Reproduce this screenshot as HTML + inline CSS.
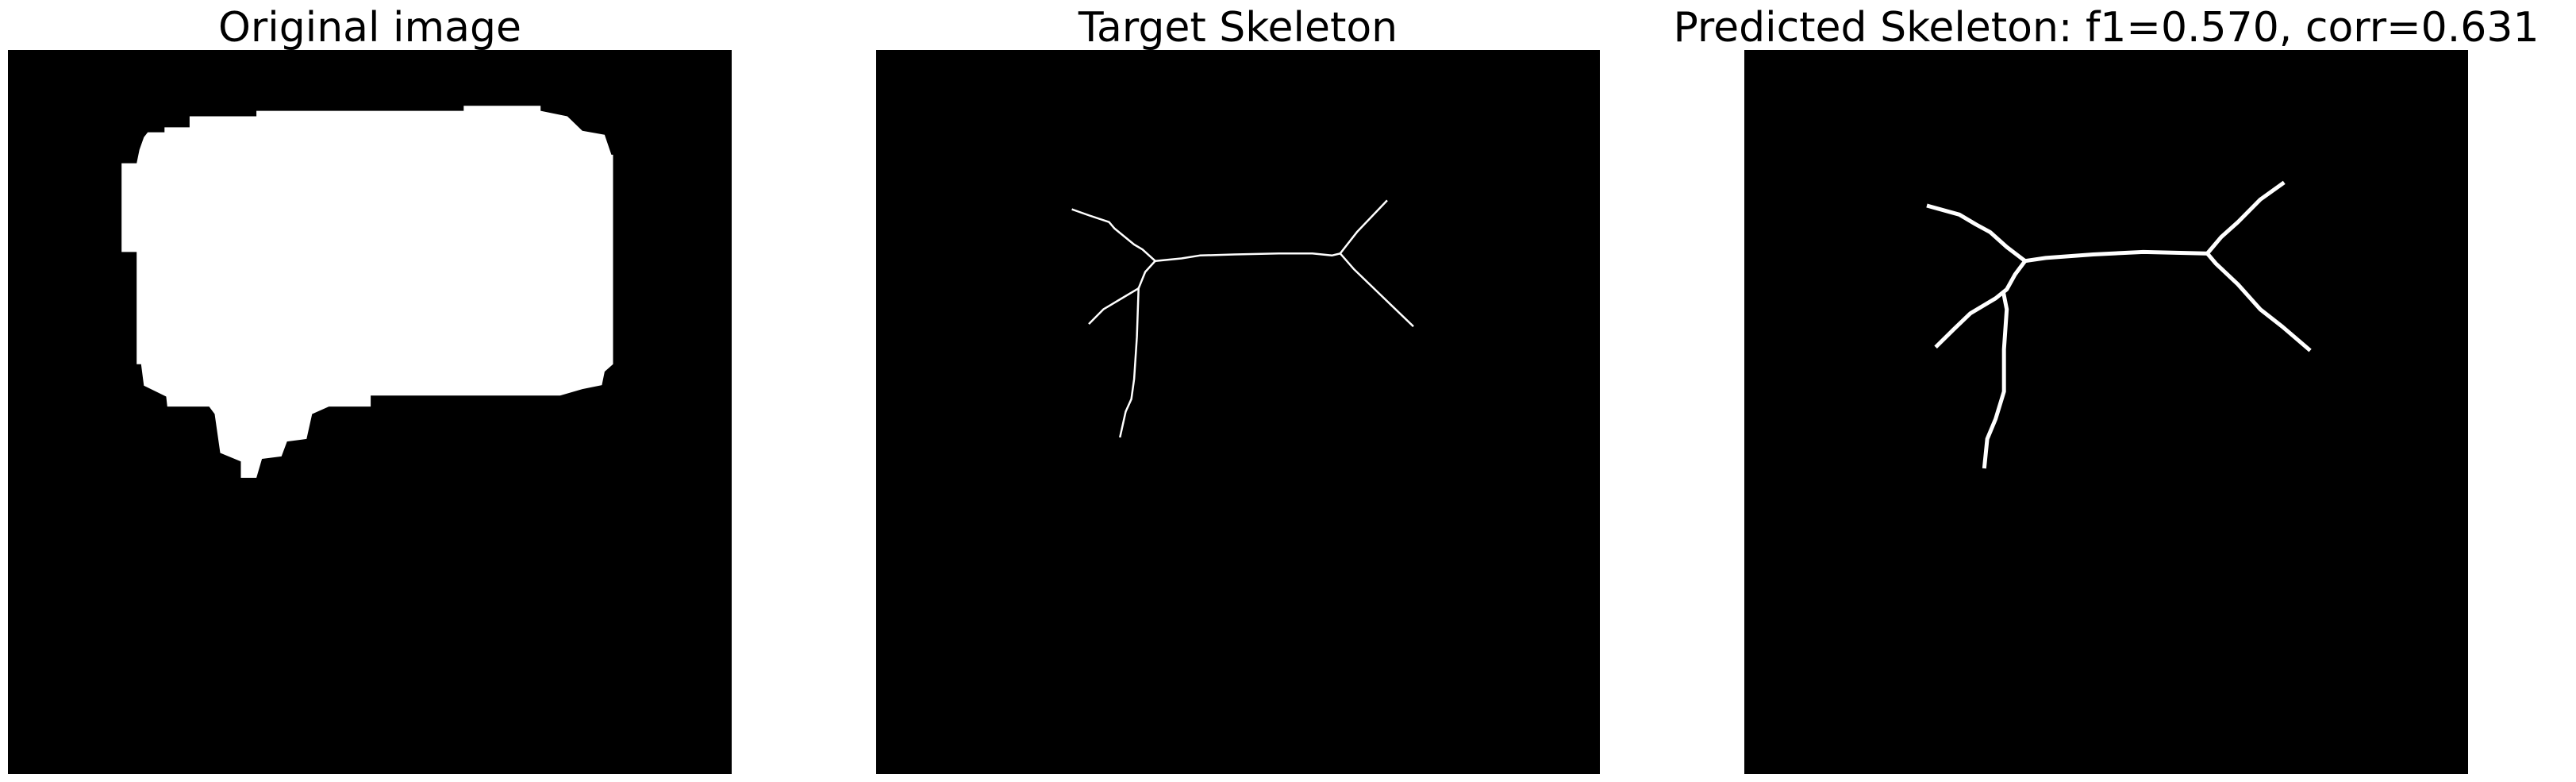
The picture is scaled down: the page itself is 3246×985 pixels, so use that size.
<!DOCTYPE html>
<html><head><meta charset="utf-8">
<style>
html,body{margin:0;padding:0;background:#fff;}
svg{display:block;}
text{font-family:"DejaVu Sans","Liberation Sans",sans-serif;}
</style></head>
<body>
<svg id="fig" width="3246" height="985" viewBox="0 0 3246 985" xmlns="http://www.w3.org/2000/svg">
  <g>
    <text x="466" y="52" font-size="52" text-anchor="middle">Original image</text>
    <rect x="10" y="63" width="912" height="912" fill="#000"/>
    <g id="g1"></g>
  </g>
  <g>
    <text x="1560" y="52" font-size="52" text-anchor="middle">Target Skeleton</text>
    <rect x="1104" y="63" width="912" height="912" fill="#000"/>
    <g id="g2"></g>
  </g>
  <g>
    <text x="2654" y="52" font-size="52" text-anchor="middle">Predicted Skeleton: f1=0.570, corr=0.631</text>
    <rect x="2198" y="63" width="912" height="912" fill="#000"/>
    <g id="g3"></g>
  </g>
</svg>
<script>
// Image-space readings (source pixel grid of each panel, 0..1300 x 0..1452)
const bubbleX = [460,832,832,970,970,1018,1045,1085,1097,1100,1100,1085,1080,1045,1005,665,665,590,560,550,515,505,470,460,432,432,395,385,375,300,298,258,253,245,245,218,218,245,250,258,265,295,295,340,340,460];
const bubbleY = [222,222,212,212,222,233,262,270,310,310,730,745,772,780,793,793,815,815,830,880,885,915,920,958,958,925,908,830,815,815,795,773,730,730,505,505,327,327,300,275,265,265,255,255,233,233];

const targetBranches = [
  {x:[430,460,495,505,540,555,578], y:[420,432,445,458,490,500,523]},
  {x:[578,625,658,720,800,860,895,910], y:[523,518,512,510,508,508,512,508]},
  {x:[910,940,993], y:[508,465,403]},
  {x:[910,935,1000,1040], y:[508,540,610,653]},
  {x:[578,560,548,515,485,460], y:[523,545,578,600,620,648]},
  {x:[548,545,540,535,525,515], y:[578,675,760,800,825,875]}
];
const predBranches = [
  {x:[405,460,490,515,545,578], y:[413,430,450,465,495,523]},
  {x:[578,615,700,790,905], y:[523,517,510,505,508]},
  {x:[905,930,960,1000,1040], y:[508,475,445,400,368]},
  {x:[905,920,960,1000,1040,1087], y:[508,528,570,620,655,700]},
  {x:[578,560,545,525,480,450,420], y:[523,550,580,598,628,660,693]},
  {x:[540,545,540,540,525,510,505], y:[592,620,700,785,840,880,935]}
];

const NS = "http://www.w3.org/2000/svg";
function axisX(left, origin){ return v => left + (v - origin) / 1299 * 912; }
function axisY(v){ return 63 + (v - 100) / 1452 * 912; }

const x1 = axisX(10, 14), x2 = axisX(1104, 77), x3 = axisX(2198, 74);

const poly = document.createElementNS(NS, "polygon");
poly.setAttribute("points", bubbleX.map((v,i)=>x1(v).toFixed(1)+","+axisY(bubbleY[i]).toFixed(1)).join(" "));
poly.setAttribute("fill", "#fff");


document.getElementById("g1").appendChild(poly);

function drawBranches(gid, branches, xf, width, prefix){
  const g = document.getElementById(gid);
  branches.forEach((b, k) => {
    const pl = document.createElementNS(NS, "polyline");
    pl.setAttribute("points", b.x.map((v,i)=>xf(v).toFixed(1)+","+axisY(b.y[i]).toFixed(1)).join(" "));
    pl.setAttribute("fill", "none");
    pl.setAttribute("stroke", "#fff");
    pl.setAttribute("stroke-width", width);
    pl.setAttribute("stroke-linejoin", "round");
    pl.setAttribute("stroke-linecap", "square");
    
    
    g.appendChild(pl);
  });
}
drawBranches("g2", targetBranches, x2, 2.5, "target-skeleton");
drawBranches("g3", predBranches, x3, 5, "predicted-skeleton");
</script>
</body></html>
